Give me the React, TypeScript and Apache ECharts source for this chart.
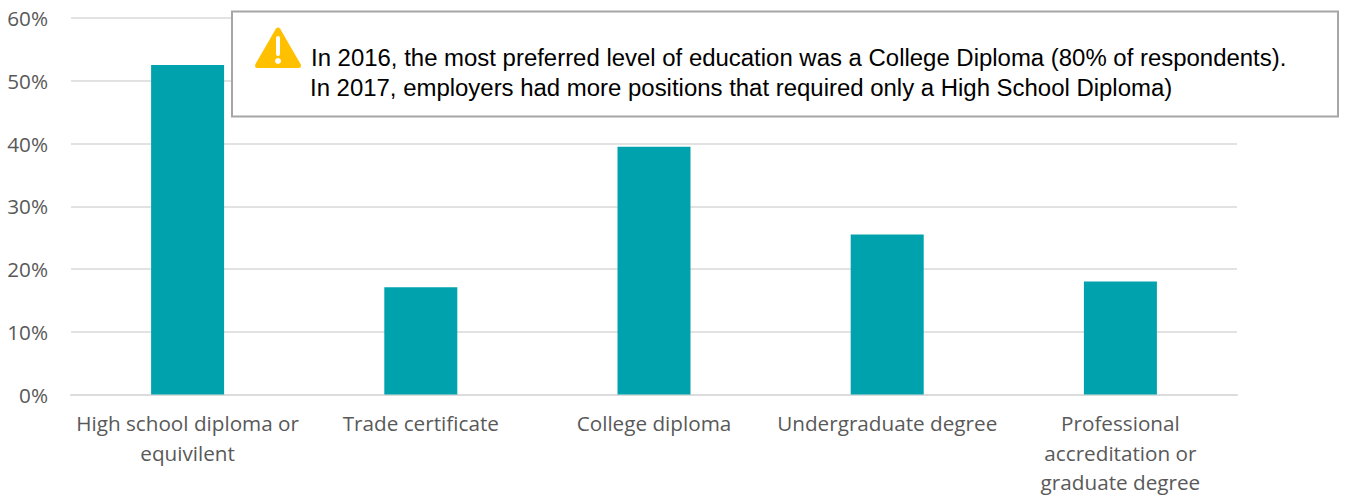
import React, { useEffect, useRef } from "react";
import * as echarts from "echarts";

const categories = [
  "High school diploma or\nequivilent",
  "Trade certificate",
  "College diploma",
  "Undergraduate degree",
  "Professional\naccreditation or\ngraduate degree",
];
const shares = [52.5, 17.1, 39.5, 25.5, 18];
const noteLines = [
  "In 2016, the most preferred level of education was a College Diploma (80% of respondents).",
  "In 2017, employers had more positions that required only a High School Diploma)",
];

echarts.graphic.registerShape(
  "warningTriangle",
  echarts.graphic.extendPath(
    "M21 1.5 Q23 -0.5 25 1.5 L45.5 37 Q47 40.5 44 41 L2 41 Q-1 40.5 0.5 37 Z",
    {}
  )
);

export default function App() {
  const ref = useRef<HTMLDivElement>(null);

  useEffect(() => {
    const chart = echarts.init(ref.current!, null, { renderer: "svg" });
    chart.setOption({
      animation: false,
      backgroundColor: "#ffffff",
      grid: { left: 71, right: 108, top: 18, bottom: 101.5, outerBoundsMode: "none" },
      xAxis: {
        type: "category",
        data: categories,
        axisTick: { show: false },
        axisLine: { lineStyle: { color: "#dcdcdc", width: 2 } },
        axisLabel: {
          color: "#595959",
          fontFamily: "Open Sans",
          fontSize: 20.7,
          lineHeight: 29.5,
          margin: 14,
          interval: 0,
        },
      },
      yAxis: {
        type: "value",
        min: 0,
        max: 60,
        interval: 10,
        axisLine: { show: false },
        axisTick: { show: false },
        splitLine: { lineStyle: { color: "#e2e2e2", width: 2 } },
        axisLabel: {
          color: "#595959",
          fontFamily: "Open Sans",
          fontSize: 20.7,
          margin: 23,
          formatter: "{value}%",
        },
      },
      series: [
        {
          type: "bar",
          data: shares,
          barWidth: 73,
          itemStyle: { color: "#00a3ad" },
        },
      ],
      graphic: [
        {
          type: "rect",
          shape: { x: 232, y: 11.5, width: 1106, height: 105 },
          style: { fill: "#ffffff", stroke: "#a6a6a6", lineWidth: 2 },
          z: 10,
        },
        {
          type: "warningTriangle",
          x: 255,
          y: 27,
          style: { fill: "#ffc000" },
          z: 11,
        },
        {
          type: "rect",
          shape: { x: 276, y: 36, width: 4, height: 20, r: 2 },
          style: { fill: "#ffffff" },
          z: 12,
        },
        {
          type: "circle",
          shape: { cx: 278, cy: 61, r: 3 },
          style: { fill: "#ffffff" },
          z: 12,
        },
        {
          type: "text",
          x: 311,
          y: 57,
          style: {
            text: noteLines[0],
            fill: "#000000",
            font: '23.95px "Liberation Sans"',
            textVerticalAlign: "middle",
          },
          z: 12,
        },
        {
          type: "text",
          x: 310,
          y: 87,
          style: {
            text: noteLines[1],
            fill: "#000000",
            font: '23.95px "Liberation Sans"',
            textVerticalAlign: "middle",
          },
          z: 12,
        },
      ],
    });
    return () => chart.dispose();
  }, []);

  return (
    <div
      ref={ref}
      style={{ position: "fixed", left: 0, top: 0, width: 1345, height: 496 }}
    />
  );
}
